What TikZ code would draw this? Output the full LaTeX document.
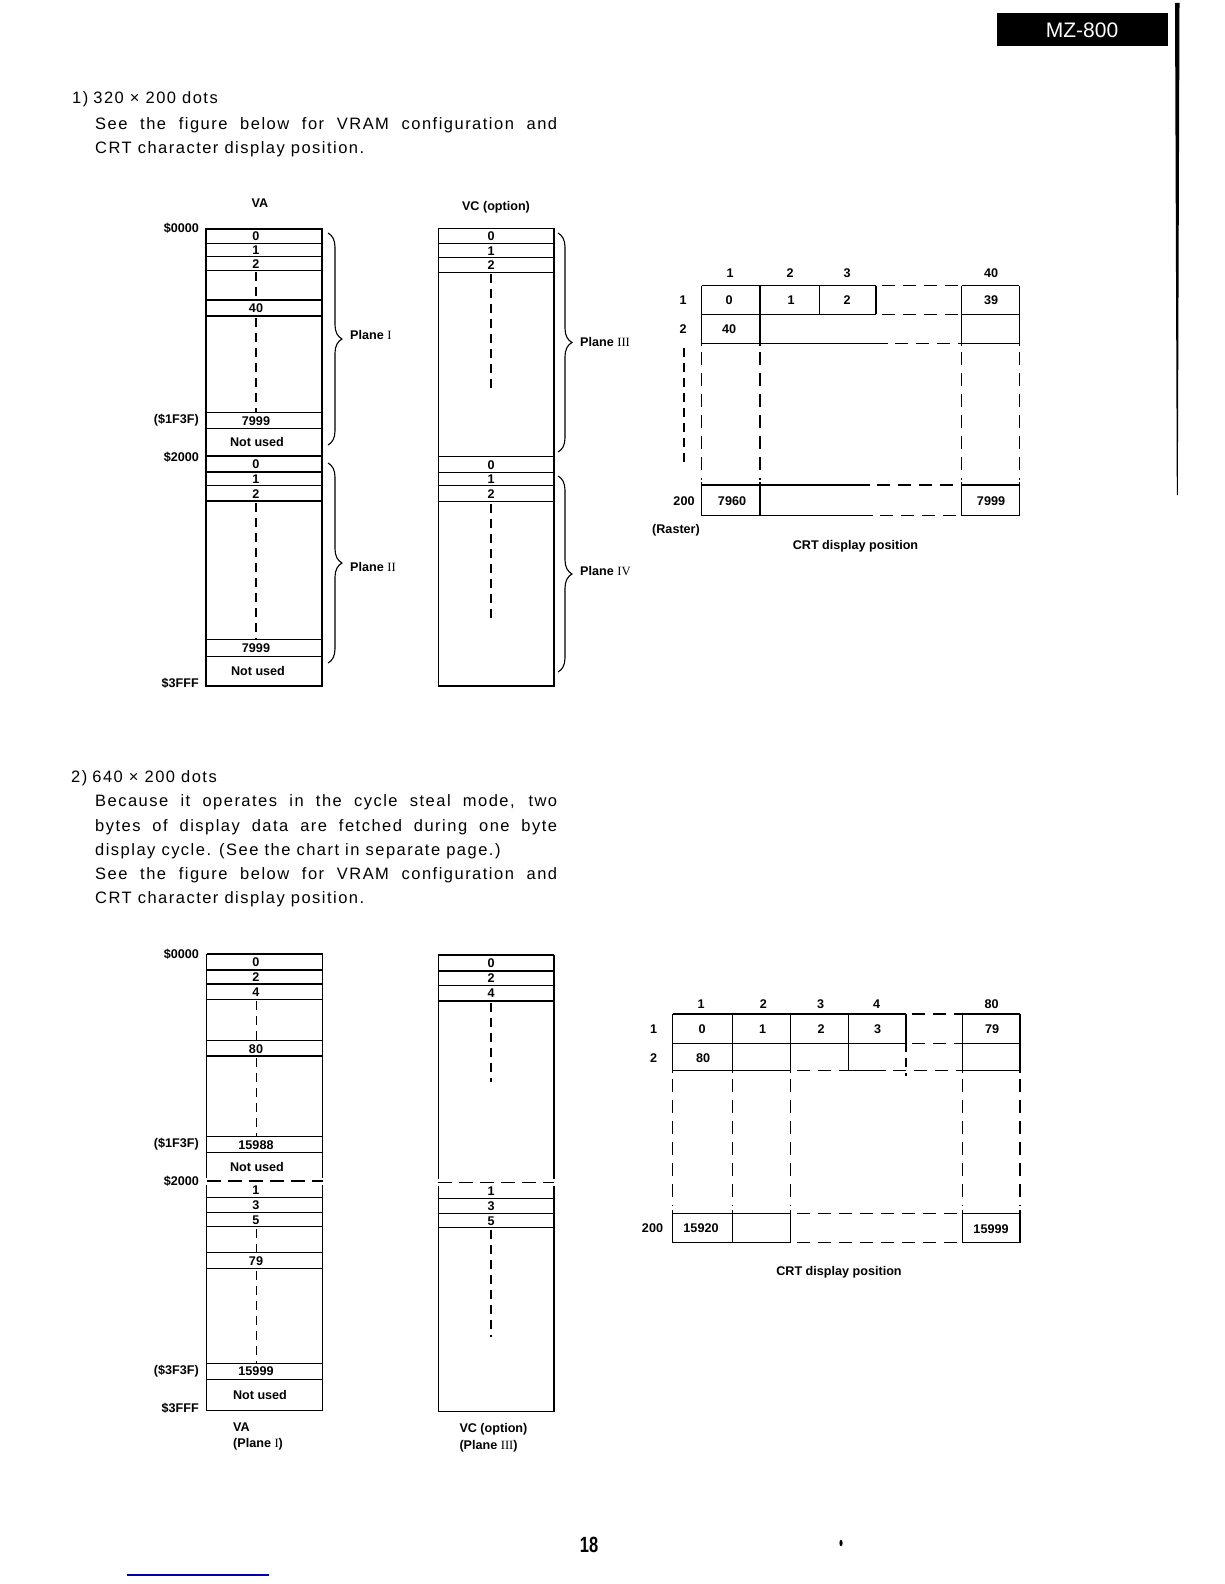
\documentclass[tikz,border=0pt]{standalone}
\usepackage{fontspec}
\usepackage{graphicx}
\setmainfont{Liberation Sans}
\newfontfamily\bodyf[LetterSpace=9]{Liberation Sans}
\newfontfamily\labf{Liberation Sans}
\newfontfamily\romf{Liberation Serif}
\usetikzlibrary{decorations.pathreplacing}
\tikzset{
  box/.style={line width=1.4pt},
  dsh/.style={line width=1.4pt, dash pattern=on 13pt off 8pt},
  vd/.style={line width=1.2pt, dash pattern=on 9pt off 6pt},
  addr/.style={line width=1.4pt, dash pattern=on 14pt off 7pt},
  lab/.style={font={\labf\bfseries\fontsize{12.6}{14}\selectfont}, inner sep=0pt, text height=9pt, text depth=0pt},
  rlab/.style={lab, anchor=east},
  llab/.style={lab, anchor=west},
  body/.style={font={\bodyf\fontsize{16.5}{19}\selectfont}, inner sep=0pt, anchor=west, text height=11.8pt, text depth=0pt},
  brc/.style={decorate, decoration={brace, amplitude=14pt}, line width=1.1pt}
}
\begin{document}
\begin{tikzpicture}[x=1pt,y=-1pt]
\useasboundingbox (0,0) rectangle (1224,1584);
\fill[white] (0,0) rectangle (1224,1584);

% ---------- header ----------
\fill[black] (997,13) rectangle (1168,46);
\node[font={\labf\fontsize{21}{22}\selectfont}, text=white, inner sep=0pt] (hdr) at (1082,30) {MZ-800};
\fill[black] (1175,3) -- (1179.5,3) -- (1177.8,495) -- (1176.8,495) -- cycle;

% ---------- text section 1 ----------
\node[body] (t1) at (72,98) {1)\hspace{5pt}320 × 200 dots};
\node[body] (t2) at (95,123.2) {\makebox[462pt][s]{See the figure below for VRAM configuration and}};
\node[body] (t3) at (95,147.5) {CRT character display position.};

% ---------- top VA column ----------
\node[lab] (vaT) at (260,203) {VA};
\draw[box] (206,229) rectangle (322,686);
\foreach \y in {243.3,256.7,270.7,300,316,412.7,428.3,456,472,485.7,501,639.3,656.7}
  \draw[box] (206,\y) -- (322,\y);
\draw[vd] (256,272) -- (256,300);
\draw[vd] (256,318) -- (256,412.7);
\draw[vd] (256,503) -- (256,639.3);
\node[lab] (va0) at (256,236.3) {0};
\node[lab] (va1) at (256,250.3) {1};
\node[lab] (va2) at (256,264) {2};
\node[lab] (va40) at (256,308.3) {40};
\node[lab] (va7999) at (256,420.7) {7999};
\node[lab] (vanu) at (257,442.3) {Not used};
\node[lab] (vb0) at (256,464) {0};
\node[lab] (vb1) at (256,479) {1};
\node[lab] (vb2) at (256,493.5) {2};
\node[lab] (vb7999) at (256,648.2) {7999};
\node[lab] (vbnu) at (258,671.3) {Not used};
\node[rlab] (a1) at (199,227.5) {\$0000};
\node[rlab] (a2) at (199,419) {(\$1F3F)};
\node[rlab] (a3) at (199,456.5) {\$2000};
\node[rlab] (a4) at (199,683) {\$3FFF};
\draw[brc] (328,233) -- (328,445);
\draw[brc] (328,463) -- (328,663);
\node[llab] (p1) at (350,335) {Plane \romf\mdseries I};
\node[llab] (p2) at (350,566.5) {Plane \romf\mdseries II};

% ---------- top VC column ----------
\node[lab] (vcT) at (496,206) {VC (option)};
\draw[box] (438.3,228.3) rectangle (554,686);
\foreach \y in {243.3,257.7,272.3,456.7,472.3,485.7,501.7}
  \draw[box] (438.3,\y) -- (554,\y);
\draw[vd] (491,274) -- (491,391.7);
\draw[vd] (491,504) -- (491,618);
\node[lab] (vc0) at (491,235.8) {0};
\node[lab] (vc1) at (491,250.5) {1};
\node[lab] (vc2) at (491,265) {2};
\node[lab] (vd0) at (491,464.5) {0};
\node[lab] (vd1) at (491,479) {1};
\node[lab] (vd2) at (491,493.7) {2};
\draw[brc] (558,233) -- (558,452);
\draw[brc] (558,476) -- (558,672);
\node[llab] (p3) at (580,342) {Plane \romf\mdseries III};
\node[llab] (p4) at (580,570.5) {Plane \romf\mdseries IV};

% ---------- CRT display 1 ----------
\foreach \x/\t/\n in {730/1/h1,790/2/h2,847/3/h3,991/40/h40}
  \node[lab] (c1\n) at (\x,272.7) {\t};
\node[lab] (c1r1) at (683,299.5) {1};
\node[lab] (c1r2) at (683,328.5) {2};
\node[lab] (c1r200) at (684,500.5) {200};
\node[lab] (c1rast) at (676,529) {(Raster)};
\draw[vd] (684,348) -- (684,466);
\node[lab] (c1x0) at (729,299.5) {0};
\node[lab] (c1x1) at (791,299.5) {1};
\node[lab] (c1x2) at (847,299.5) {2};
\node[lab] (c1x39) at (991,299.5) {39};
\node[lab] (c1x40) at (729,328.5) {40};
\node[lab] (c1x7960) at (732,500.5) {7960};
\node[lab] (c1x7999) at (991,500.5) {7999};
\node[lab] (c1cap) at (855.5,545) {CRT display position};
% solid
\draw[box] (701.7,285.7) -- (876,285.7);
\draw[box] (961.7,285.7) -- (1019.3,285.7);
\draw[box] (701.7,314.3) -- (876,314.3);
\draw[box] (961.7,314.3) -- (1019.3,314.3);
\draw[box] (701.7,343.3) -- (888,343.3);
\draw[box] (961.7,343.3) -- (1019.3,343.3);
\draw[box] (701.7,485) -- (870,485);
\draw[box] (961.7,485) -- (1019.3,485);
\draw[box] (701.7,515.7) -- (873,515.7);
\draw[box] (961.7,515.7) -- (1019.3,515.7);
\foreach \x in {819.3,876}
  \draw[box] (\x,285.7) -- (\x,314.3);
\foreach \x in {701.7,760,961.7,1019.3} {
  \draw[box] (\x,285.7) -- (\x,346);
  \draw[dsh] (\x,352) -- (\x,480);
  \draw[box] (\x,482) -- (\x,515.7);
}
% dashed
\draw[dsh] (882,285.7) -- (961.7,285.7);
\draw[dsh] (882,314.3) -- (961.7,314.3);
\draw[dsh] (895,343.3) -- (961.7,343.3);
\draw[dsh] (877,485) -- (961.7,485);
\draw[dsh] (880,515.7) -- (961.7,515.7);

% ---------- text section 2 ----------
\node[body] (t4) at (71,776.7) {2)\hspace{5pt}640 × 200 dots};
\node[body] (t5) at (95,801) {\makebox[462pt][s]{Because it operates in the cycle steal mode, two}};
\node[body] (t6) at (95,825.3) {\makebox[462pt][s]{bytes of display data are fetched during one byte}};
\node[body] (t7) at (95,849.6) {display cycle. (See the chart in separate page.)};
\node[body] (t8) at (95,873.6) {\makebox[462pt][s]{See the figure below for VRAM configuration and}};
\node[body] (t9) at (95,897.5) {CRT character display position.};

% ---------- bottom VA column ----------
\draw[box] (206.7,954) -- (322.7,954);
\draw[box] (206.7,1410.7) -- (322.7,1410.7);
\draw[box] (206.7,954) -- (206.7,1177.5);
\draw[box] (322.7,954) -- (322.7,1177.5);
\draw[box] (206.7,1184.5) -- (206.7,1410.7);
\draw[box] (322.7,1184.5) -- (322.7,1410.7);
\draw[addr] (206.7,1181) -- (322.7,1181);
\foreach \y in {970,984,999.3,1040.7,1056,1136.7,1152.7,1197.7,1212.3,1226.7,1252.7,1268.3,1363.3,1379.3}
  \draw[box] (206.7,\y) -- (322.7,\y);
\draw[vd] (256.7,1001) -- (256.7,1040.7);
\draw[vd] (256.7,1058) -- (256.7,1136.7);
\draw[vd] (256.7,1229) -- (256.7,1252.7);
\draw[vd] (256.7,1271) -- (256.7,1363.3);
\node[lab] (wa0) at (256,962) {0};
\node[lab] (wa2) at (256,977) {2};
\node[lab] (wa4) at (256,991.7) {4};
\node[lab] (wa80) at (256,1048.5) {80};
\node[lab] (wa15988) at (256,1145) {15988};
\node[lab] (wanu) at (257,1167) {Not used};
\node[lab] (wb1) at (256,1189.7) {1};
\node[lab] (wb3) at (256,1205) {3};
\node[lab] (wb5) at (256,1219.5) {5};
\node[lab] (wb79) at (256,1260.5) {79};
\node[lab] (wb15999) at (256,1371.3) {15999};
\node[lab] (wbnu) at (260,1395) {Not used};
\node[rlab] (b1) at (199,953.5) {\$0000};
\node[rlab] (b2) at (199,1143.3) {(\$1F3F)};
\node[rlab] (b3) at (199,1180.7) {\$2000};
\node[rlab] (b4) at (199,1370) {(\$3F3F)};
\node[rlab] (b5) at (199,1408) {\$3FFF};
\node[llab] (wcap1) at (233,1427) {VA};
\node[llab] (wcap2) at (233,1443) {(Plane \romf\mdseries I\labf\bfseries)};

% ---------- bottom VC column ----------
\draw[box] (438.3,955) -- (554,955);
\draw[box] (438.3,1411.7) -- (554,1411.7);
\draw[box] (438.3,955) -- (438.3,1179.2);
\draw[box] (554,955) -- (554,1179.2);
\draw[box] (438.3,1186.2) -- (438.3,1411.7);
\draw[box] (554,1186.2) -- (554,1411.7);
\draw[addr] (438.3,1182.7) -- (554,1182.7);
\foreach \y in {971,985.7,1001,1198.3,1213.3,1227.7}
  \draw[box] (438.3,\y) -- (554,\y);
\draw[vd] (491,1003) -- (491,1081.7);
\draw[vd] (491,1230) -- (491,1337.3);
\node[lab] (xc0) at (491,963) {0};
\node[lab] (xc2) at (491,978.3) {2};
\node[lab] (xc4) at (491,993.3) {4};
\node[lab] (xd1) at (491,1190.5) {1};
\node[lab] (xd3) at (491,1205.8) {3};
\node[lab] (xd5) at (491,1220.5) {5};
\node[llab] (xcap1) at (459.3,1428.3) {VC (option)};
\node[llab] (xcap2) at (459.3,1445) {(Plane \romf\mdseries III\labf\bfseries)};

% ---------- CRT display 2 ----------
\foreach \x/\t/\n in {701/1/h1,763.3/2/h2,820.7/3/h3,876.7/4/h4,991.7/80/h80}
  \node[lab] (c2\n) at (\x,1003.5) {\t};
\node[lab] (c2r1) at (653.5,1029) {1};
\node[lab] (c2r2) at (653.5,1057.5) {2};
\node[lab] (c2r200) at (652.5,1227.5) {200};
\node[lab] (c2x0) at (702,1029) {0};
\node[lab] (c2x1) at (762.5,1029) {1};
\node[lab] (c2x2) at (821,1029) {2};
\node[lab] (c2x3) at (877.7,1029) {3};
\node[lab] (c2x79) at (992,1029) {79};
\node[lab] (c2x80) at (703,1057.5) {80};
\node[lab] (c2x15920) at (701,1227.5) {15920};
\node[lab] (c2x15999) at (991,1228.5) {15999};
\node[lab] (c2cap) at (839,1270.5) {CRT display position};
% solid
\draw[box] (672.7,1014) -- (906,1014);
\draw[box] (962.3,1014) -- (1020,1014);
\draw[box] (672.7,1043.3) -- (906,1043.3);
\draw[box] (962.3,1043.3) -- (1020,1043.3);
\draw[box] (672.7,1070.7) -- (790.7,1070.7);
\draw[box] (848.3,1070.7) -- (886,1070.7);
\draw[box] (962.3,1070.7) -- (1020,1070.7);
\draw[box] (672.7,1213.3) -- (790.7,1213.3);
\draw[box] (962.3,1213.3) -- (1020,1213.3);
\draw[box] (672.7,1242.7) -- (790.7,1242.7);
\draw[box] (962.3,1242.7) -- (1020,1242.7);
\draw[box] (906,1014) -- (906,1043.3);
\draw[box] (848.3,1014) -- (848.3,1070.7);
\foreach \x in {672.7,732.7,790.7,962.3,1020} {
  \draw[box] (\x,1014) -- (\x,1073);
  \draw[dsh] (\x,1079) -- (\x,1206);
  \draw[box] (\x,1210) -- (\x,1242.7);
}
% dashed
\draw[dsh] (912,1014) -- (962.3,1014);
\draw[dsh] (912,1043.3) -- (962.3,1043.3);
\draw[dsh] (797,1070.7) -- (848.3,1070.7);
\draw[dsh] (893,1070.7) -- (962.3,1070.7);
\draw[dsh] (797,1213.3) -- (962.3,1213.3);
\draw[dsh] (797,1242.7) -- (962.3,1242.7);
\draw[line width=1.4pt, dash pattern=on 9pt off 6pt] (906,1043.3) -- (906,1076);

% ---------- footer ----------
\node[font={\labf\bfseries\fontsize{22}{22}\selectfont}, inner sep=0pt] (pg) at (589,1545) {\scalebox{0.75}[1]{18}};
\fill[black] (841,1543) ellipse (1.6 and 3.2);
\draw[blue!70!black, line width=1.3pt] (127,1575) -- (269,1575);
\end{tikzpicture}
\end{document}
